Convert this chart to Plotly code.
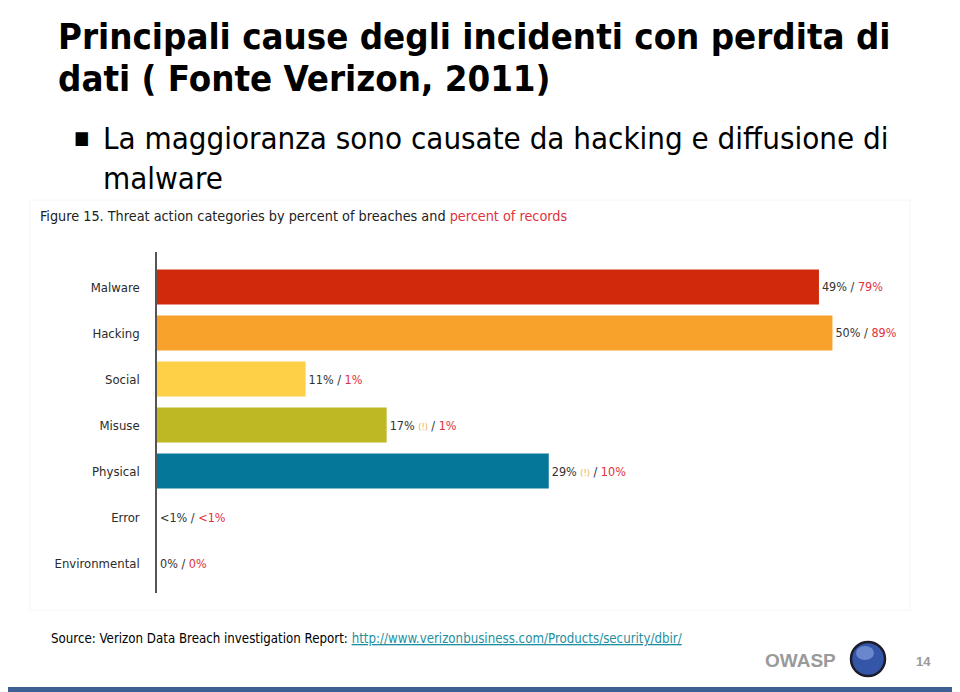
import plotly.graph_objects as go

# Threat action categories (Verizon DBIR 2011, figure 15)
categories = ['Malware', 'Hacking', 'Social', 'Misuse', 'Physical', 'Error', 'Environmental']
breaches = [49, 50, 11, 17, 29, 0, 0]
breach_labels = ['49%', '50%', '11%', '17%', '29%', '<1%', '0%']
record_labels = ['79%', '89%', '1%', '1%', '10%', '<1%', '0%']
flags = ['', '', '', '(!)', '(!)', '', '']
bar_colors = ['#d02a0c', '#f8a22c', '#fdd048', '#bdb824', '#05789a', '#888888', '#888888']

RED = '#e0323e'
NARROW = 'Liberation Sans Narrow, DejaVu Sans Condensed, sans-serif'
SLIDE = 'DejaVu Sans Condensed, Liberation Sans, sans-serif'

# the page body adds 8px, so work in page pixels and shift back
OFF = 8
L, R, T, B = 157 - OFF, 900 - OFF, 252 - OFF, 593 - OFF


def px(x):
    return (x - OFF - L) / (R - L)


def py(y):
    return (B - (y - OFF)) / (B - T)


labels = []
for b, f, r in zip(breach_labels, flags, record_labels):
    flag = f" <span style='color:#f2a955;font-size:9px'>{f}</span>" if f else ''
    labels.append(f"{b}{flag} / <span style='color:{RED}'>{r}</span>")

fig = go.Figure(go.Bar(
    x=breaches, y=categories, orientation='h',
    marker=dict(color=bar_colors, line=dict(width=0)),
    width=0.76,
    text=labels, textposition='outside', cliponaxis=False,
    textfont=dict(family=NARROW, size=12.5, color='#333333'),
    hoverinfo='skip',
))

fig.update_xaxes(range=[0, 55], visible=False, fixedrange=True)
fig.update_yaxes(
    type='category', range=[6.65, -0.76],
    showline=True, linecolor='#555555', linewidth=1.5,
    showgrid=False, zeroline=False, ticks='', ticklabelstandoff=13,
    tickfont=dict(family=NARROW, size=13, color='#2a2a2a'),
)

ann = []


def text(x, y, s, size, color='#000000', family=SLIDE, xanchor='left', bold=False):
    if bold:
        s = f'<b>{s}</b>'
    ann.append(dict(x=px(x), y=py(y), xref='paper', yref='paper', text=s, showarrow=False,
                    xanchor=xanchor, yanchor='middle',
                    font=dict(family=family, size=size, color=color)))


# slide title and bullet
text(56, 37, 'Principali cause degli incidenti con perdita di', 36.3, bold=True)
text(56, 78, 'dati ( Fonte Verizon, 2011)', 36.3, bold=True)
text(72, 137, '■', 18)
text(101, 138, 'La maggioranza sono causate da hacking e diffusione di', 31)
text(101, 178, 'malware', 31)

# figure caption
text(38, 216, "Figure 15. Threat action categories by percent of breaches and "
     f"<span style='color:{RED}'>percent of records</span>", 14.3, color='#222222', family=NARROW)

# footer
text(49, 638, "Source: Verizon Data Breach investigation Report: "
     "<span style='color:#1f8f9f;text-decoration:underline'>"
     "http://www.verizonbusiness.com/Products/security/dbir/</span>", 13.2, family=SLIDE)
text(838, 660, 'OWASP', 19, color='#9a9a9a', family='Liberation Sans, sans-serif',
     xanchor='right', bold=True)
text(923, 661, '14', 13, color='#9a9a9a', family='Liberation Sans, sans-serif',
     xanchor='center', bold=True)

shapes = [
    # bottom slide rule
    dict(type='rect', xref='paper', yref='paper', x0=px(0), x1=px(968), y0=py(687), y1=py(692),
         fillcolor='#3d5f92', line=dict(width=0)),
    # faint frame of the embedded figure
    dict(type='rect', xref='paper', yref='paper', x0=px(30), x1=px(910), y0=py(200), y1=py(610),
         fillcolor='rgba(0,0,0,0)', line=dict(color='#f6f6f6', width=1), layer='below'),
    # OWASP logo
    dict(type='circle', xref='paper', yref='paper', x0=px(851), x1=px(885), y0=py(642), y1=py(676),
         fillcolor='#3556a8', line=dict(color='#1c1c2a', width=2.5)),
    dict(type='circle', xref='paper', yref='paper', x0=px(856), x1=px(874), y0=py(646), y1=py(660),
         fillcolor='rgba(150,175,235,0.55)', line=dict(width=0)),
]

fig.update_layout(
    width=960, height=692,
    margin=dict(l=L, r=960 - R, t=T, b=692 - B),
    paper_bgcolor='white', plot_bgcolor='white',
    showlegend=False, annotations=ann, shapes=shapes,
    font=dict(family=NARROW),
)

fig.write_html('out.html')
